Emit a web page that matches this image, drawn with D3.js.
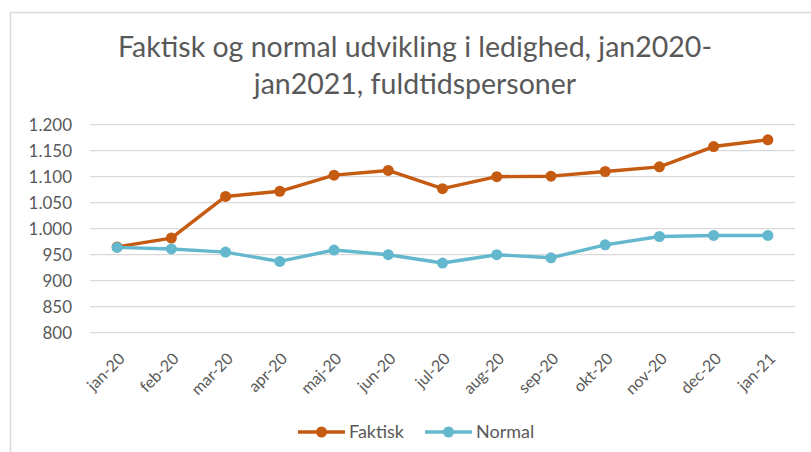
<!DOCTYPE html>
<html><head><meta charset="utf-8">
<script src="https://cdn.jsdelivr.net/npm/d3@7"></script>
<style>body{margin:0;background:#fff}svg{display:block}</style>
</head><body>
<svg id="c" width="811" height="452"></svg>
<script>
const months = ["jan-20","feb-20","mar-20","apr-20","maj-20","jun-20","jul-20","aug-20","sep-20","okt-20","nov-20","dec-20","jan-21"];
const faktisk = [965, 982, 1062, 1072, 1103, 1112, 1077, 1100, 1101, 1110, 1119, 1158, 1171];
const normal = [964, 961, 955, 937, 959, 950, 934, 950, 944, 969, 985, 987, 987];
const yTicks = [800, 850, 900, 950, 1000, 1050, 1100, 1150, 1200];
const seriesNames = ["Faktisk", "Normal"];
const colors = ["#C55A11", "#63B8CE"];
const titleLines = ["Faktisk og normal udvikling i ledighed, jan2020-", "jan2021, fuldtidspersoner"];

const svg = d3.select("#c");
const font = "Lato, 'Open Sans', sans-serif";
const textCol = "#595959";

// border
svg.append("rect").attr("x", 10.5).attr("y", 12.5).attr("width", 900).attr("height", 500)
  .attr("fill", "none").attr("stroke", "#D9D9D9").attr("stroke-width", 1.5);

const x = d3.scalePoint().domain(months).range([90, 795]).padding(0.5);
const y = d3.scaleLinear().domain([800, 1200]).range([332.7, 124.7]);

const loc = d3.formatLocale({decimal: ",", thousands: ".", grouping: [3], currency: ["", " kr."]});
const fmt = loc.format(",");

// gridlines
svg.append("g").selectAll("line").data(yTicks).join("line")
  .attr("x1", 90).attr("x2", 795)
  .attr("y1", d => y(d)).attr("y2", d => y(d))
  .attr("stroke", "#D9D9D9").attr("stroke-width", 1.2);

// y axis
const ya = svg.append("g").attr("transform", "translate(79,0)")
  .call(d3.axisLeft(y).tickValues(yTicks).tickFormat(fmt).tickSize(0).tickPadding(7));
ya.select(".domain").remove();
ya.selectAll("text").attr("font-family", font).attr("font-size", 17).attr("fill", textCol);

// x axis
const xa = svg.append("g").attr("transform", `translate(0,${y(800)})`)
  .call(d3.axisBottom(x).tickSize(0));
xa.select(".domain").remove();
xa.selectAll("text").attr("font-family", font).attr("font-size", 16).attr("fill", textCol)
  .attr("text-anchor", "end").attr("dy", "0.35em")
  .attr("transform", "translate(2,21) rotate(-45)");

// lines
const data = [faktisk, normal];
const line = d3.line().x((d, i) => x(months[i])).y(d => y(d));
data.forEach((s, k) => {
  const g = svg.append("g");
  g.append("path").datum(s).attr("d", line).attr("fill", "none")
    .attr("stroke", colors[k]).attr("stroke-width", 3.4).attr("stroke-linejoin", "round");
  g.selectAll("circle").data(s).join("circle")
    .attr("cx", (d, i) => x(months[i])).attr("cy", d => y(d)).attr("r", 5.5)
    .attr("fill", colors[k]);
});

// title
svg.append("g").selectAll("text").data(titleLines).join("text")
  .attr("x", 415).attr("y", (d, i) => 57 + i * 37)
  .attr("text-anchor", "middle").attr("font-family", font).attr("font-size", 28.5)
  .attr("fill", textCol).text(d => d);

// legend
const legX = [298, 425];
seriesNames.forEach((n, k) => {
  const g = svg.append("g").attr("transform", `translate(${legX[k]},432)`);
  g.append("line").attr("x1", 0).attr("x2", 47).attr("stroke", colors[k]).attr("stroke-width", 3.4);
  g.append("circle").attr("cx", 23.5).attr("r", 5.5).attr("fill", colors[k]);
  g.append("text").attr("x", 51).attr("dy", "0.35em").attr("font-family", font)
    .attr("font-size", 18).attr("fill", textCol).text(n);
});
</script>
</body></html>
